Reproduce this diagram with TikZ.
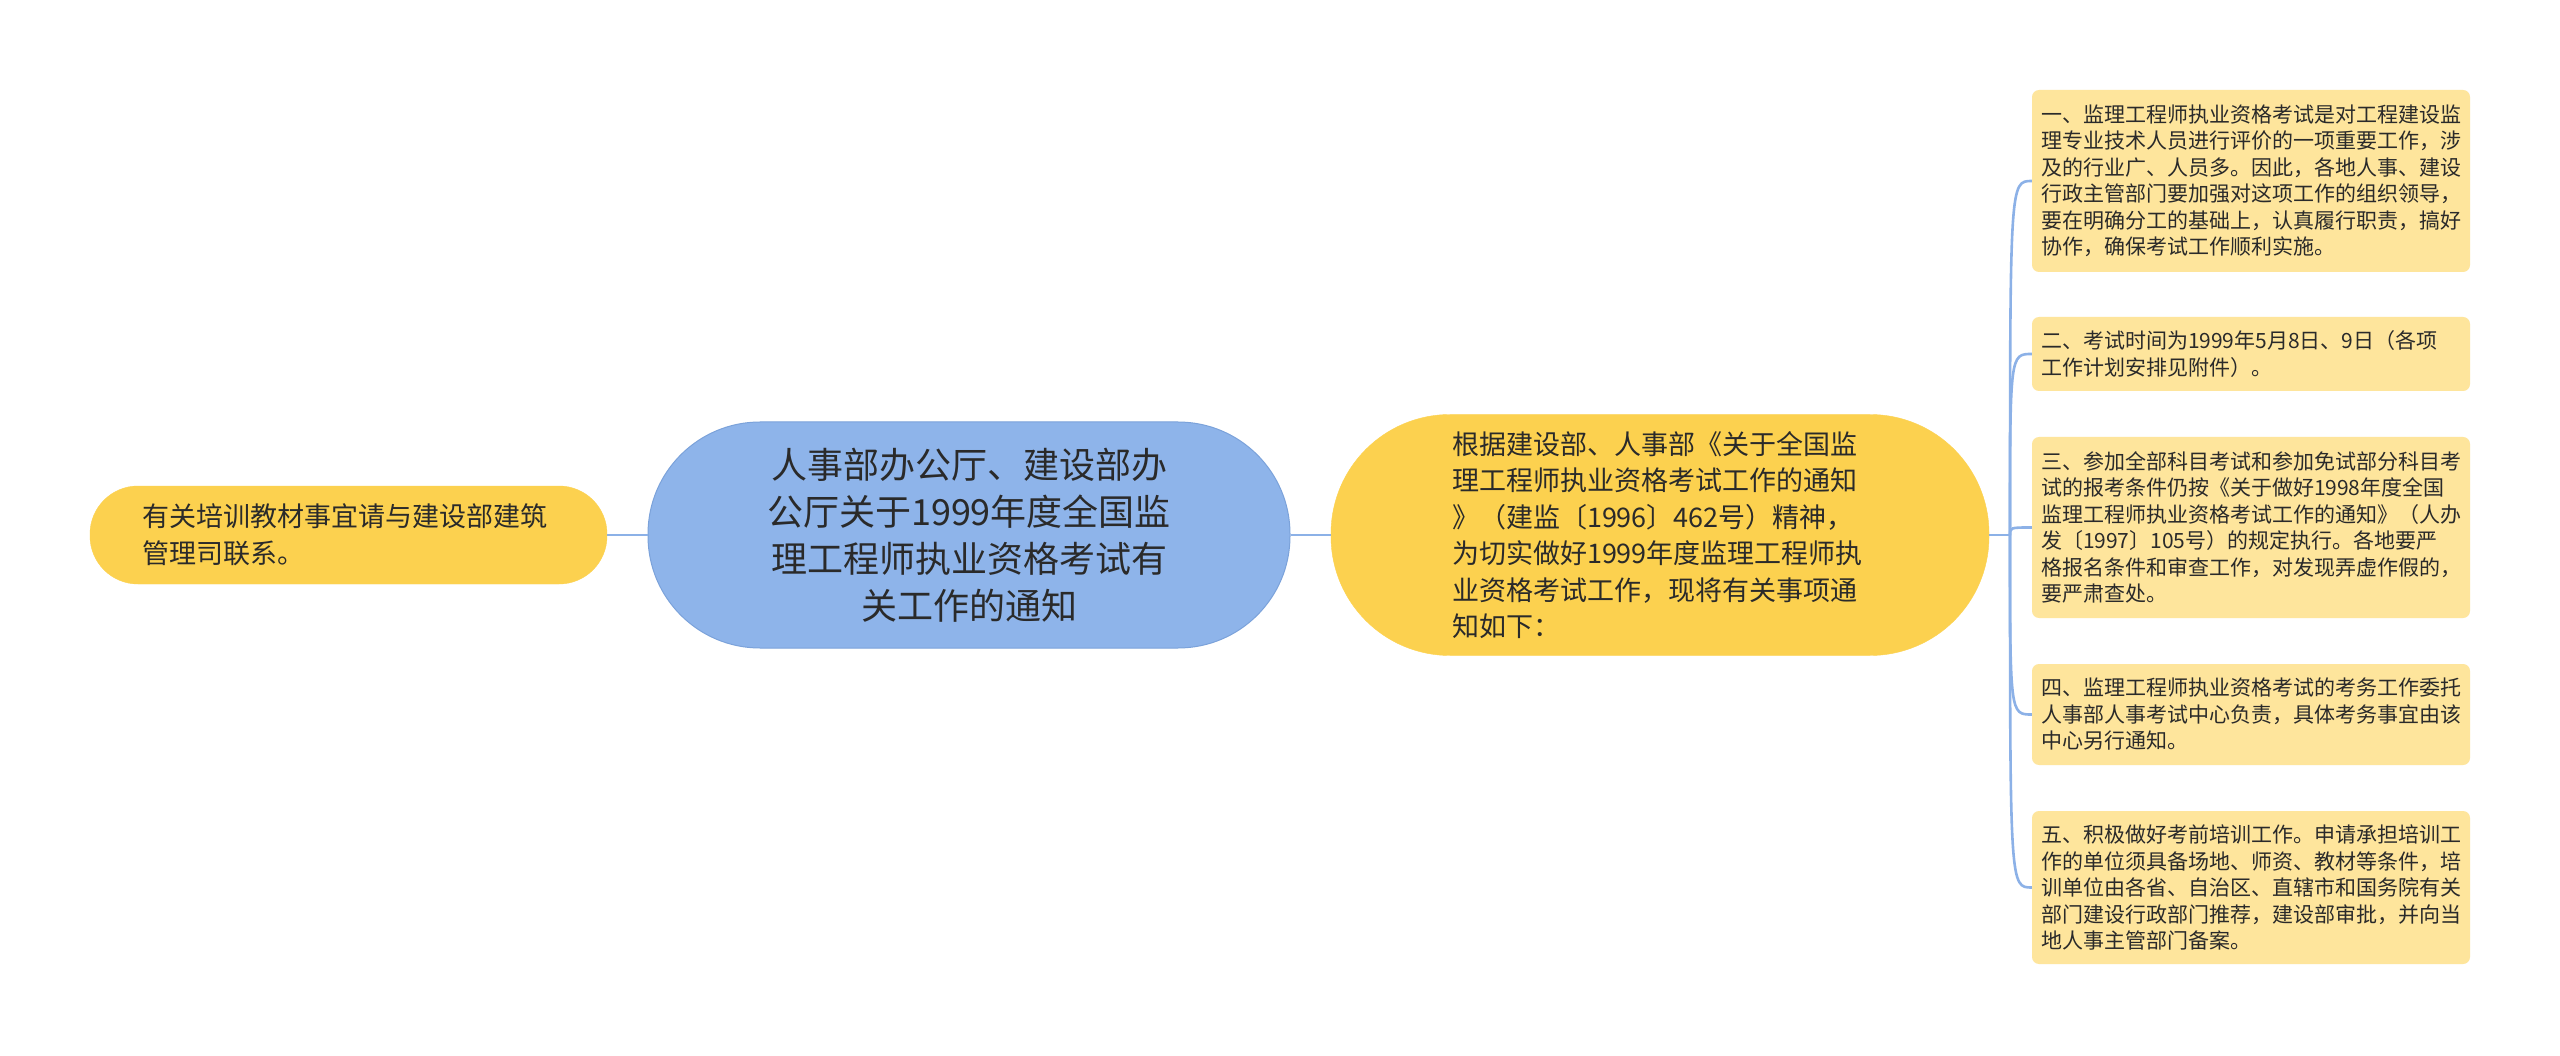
\documentclass[tikz,border=0pt]{standalone}
\usepackage{fontspec}
\setmainfont{Noto Sans CJK SC}
\definecolor{bluefill}{HTML}{8EB4EA}
\definecolor{blueedge}{HTML}{7BA2DA}
\definecolor{pillyellow}{HTML}{FCD14F}
\definecolor{boxyellow}{HTML}{FEE59C}
\definecolor{linec}{HTML}{8CB1E7}
\definecolor{txt}{HTML}{2A2A2A}
\begin{document}
\begin{tikzpicture}[x=1pt,y=-1pt,
  conn/.style={draw=linec, line width=2.6pt},
  centernode/.style={fill=bluefill, draw=blueedge, line width=1pt, text=txt, align=center,
    font=\fontsize{36pt}{47pt}\selectfont, inner sep=0pt},
  yellowpill/.style={fill=pillyellow, draw=pillyellow, text=txt, align=left, inner sep=0pt},
  itembox/.style={fill=boxyellow, rounded corners=7pt, text=txt, align=left,
    text width=420pt, inner xsep=9pt, inner ysep=0pt, minimum width=438pt,
    font=\fontsize{21pt}{26.5pt}\selectfont}]
\useasboundingbox (0,0) rectangle (2560,1056);
\fill[white] (0,0) rectangle (2560,1056);

% central topic
\node[centernode, minimum width=642pt, minimum height=226pt, rounded corners=112pt] (c) at (969,535)
  {人事部办公厅、建设部办\\公厅关于1999年度全国监\\理工程师执业资格考试有\\关工作的通知};

% left node
\node[yellowpill, minimum width=517pt, minimum height=98pt, rounded corners=48pt,
  text width=412pt, font=\fontsize{27pt}{37pt}\selectfont] (l) at (348.5,535)
  {有关培训教材事宜请与建设部建筑\\管理司联系。};

% right node
\node[yellowpill, minimum width=658pt, minimum height=241pt, rounded corners=119pt,
  text width=416pt, font=\fontsize{27pt}{36.5pt}\selectfont] (r) at (1660,535)
  {根据建设部、人事部《关于全国监\\理工程师执业资格考试工作的通知\\》（建监〔1996〕462号）精神，\\为切实做好1999年度监理工程师执\\业资格考试工作，现将有关事项通\\知如下：};

% item boxes
\node[itembox, minimum height=182pt] (b1) at (2251,181)
  {一、监理工程师执业资格考试是对工程建设监\\理专业技术人员进行评价的一项重要工作，涉\\及的行业广、人员多。因此，各地人事、建设\\行政主管部门要加强对这项工作的组织领导，\\要在明确分工的基础上，认真履行职责，搞好\\协作，确保考试工作顺利实施。};
\node[itembox, minimum height=74pt] (b2) at (2251,354)
  {二、考试时间为1999年5月8日、9日（各项\\工作计划安排见附件）。};
\node[itembox, minimum height=181pt] (b3) at (2251,527.5)
  {三、参加全部科目考试和参加免试部分科目考\\试的报考条件仍按《关于做好1998年度全国\\监理工程师执业资格考试工作的通知》（人办\\发〔1997〕105号）的规定执行。各地要严\\格报名条件和审查工作，对发现弄虚作假的，\\要严肃查处。};
\node[itembox, minimum height=101pt] (b4) at (2251,714.5)
  {四、监理工程师执业资格考试的考务工作委托\\人事部人事考试中心负责，具体考务事宜由该\\中心另行通知。};
\node[itembox, minimum height=153pt] (b5) at (2251,887.5)
  {五、积极做好考前培训工作。申请承担培训工\\作的单位须具备场地、师资、教材等条件，培\\训单位由各省、自治区、直辖市和国务院有关\\部门建设行政部门推荐，建设部审批，并向当\\地人事主管部门备案。};

% connectors
\draw[conn] (c.west) -- (l.east);
\draw[conn] (c.east) -- (r.west);
\coordinate (sp) at (2010,535);
\draw[conn] (r.east) -- (sp);
\foreach \b in {b1,b2,b3,b4,b5}{
  \draw[conn] (sp) .. controls (sp |- \b.west) and (sp |- \b.west) .. (\b.west);
}
\end{tikzpicture}
\end{document}
